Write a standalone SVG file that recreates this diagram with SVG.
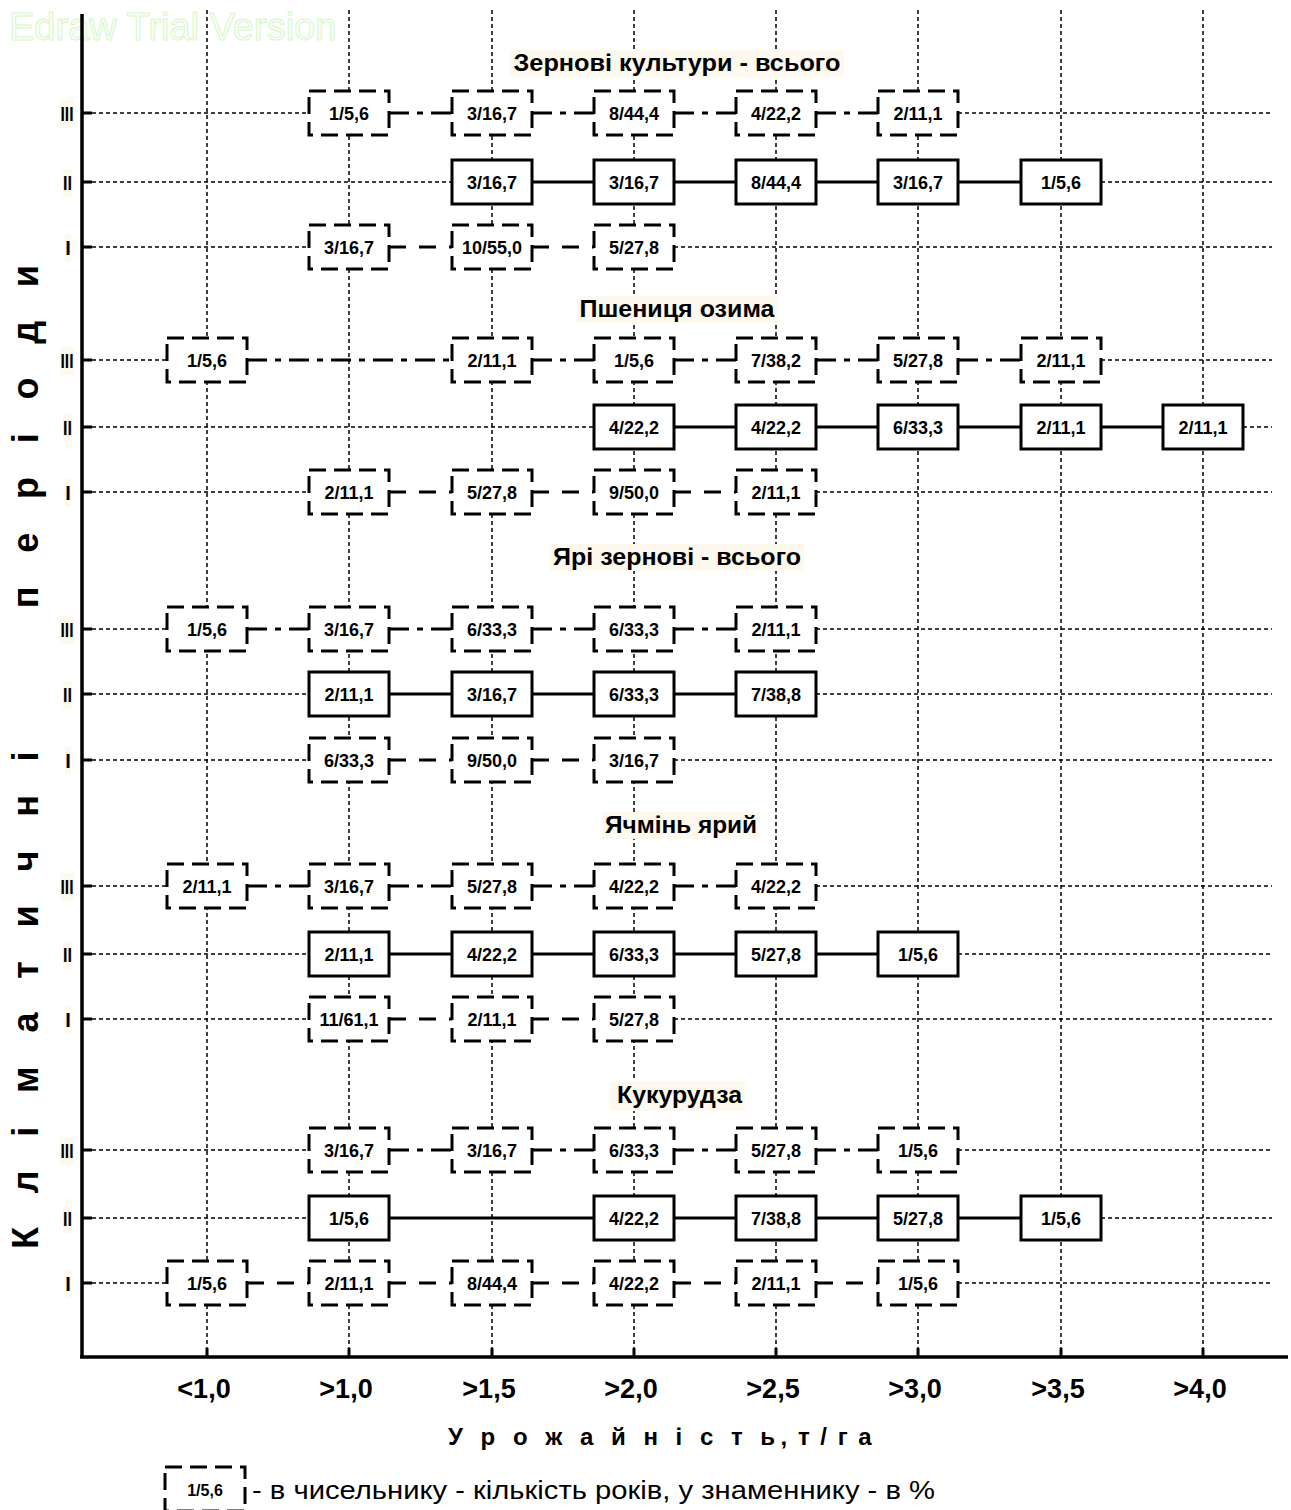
<svg xmlns="http://www.w3.org/2000/svg" width="1291" height="1510" viewBox="0 0 1291 1510">
<style>
text{font-family:"Liberation Sans",Arial,sans-serif;fill:#000}
.grid{stroke:#000;stroke-width:1.5;stroke-dasharray:4 3;fill:none}
.axis{stroke:#000;stroke-width:3.5;fill:none}
.tick{stroke:#000;stroke-width:3;fill:none}
.sb{fill:#fff;stroke:#000;stroke-width:3}
.db{fill:#fff;stroke:#000;stroke-width:3;stroke-dasharray:17 8}
.bl{font-size:18px;font-weight:bold;text-anchor:middle}
.cs{stroke:#000;stroke-width:3;fill:none}
.cd{stroke:#000;stroke-width:3;fill:none;stroke-dasharray:20 8 6 8}
.cl{stroke:#000;stroke-width:3;fill:none;stroke-dasharray:17 13}
.title{font-size:24px;font-weight:bold;text-anchor:middle}
.bg{fill:#fdf9ee}
.rn{font-size:20px;font-weight:bold;text-anchor:middle}
.xl{font-size:27px;font-weight:bold;text-anchor:middle}
</style>
<rect width="1291" height="1510" fill="#fff"/>
<text x="9" y="40" style="font-size:38px;fill:#fbfff8;stroke:#d6f7c6;stroke-width:1">Edraw Trial Version</text>

<g id="grid">
<path class="grid" d="M207 10V1350M349 10V1350M492 10V1350M634 10V1350M776 10V1350M918 10V1350M1061 10V1350M1203 10V1350"/>
<path class="grid" d="M92 113H309M958 113H1272M92 182H452M1101 182H1272M92 247H309M674 247H1272
M92 360H167M1101 360H1272M92 427H594M1243 427H1272M92 492H309M816 492H1272
M92 629H167M816 629H1272M92 694H309M816 694H1272M92 760H309M674 760H1272
M92 886H167M816 886H1272M92 954H309M958 954H1272M92 1019H309M674 1019H1272
M92 1150H309M958 1150H1272M92 1218H309M1101 1218H1272M92 1283H167M958 1283H1272"/>
</g>

<g id="titles">
<rect class="bg" x="510" y="50" width="334" height="27"/>
<text class="title" x="677" y="71" textLength="327" lengthAdjust="spacingAndGlyphs">Зернові культури - всього</text>
<rect class="bg" x="577" y="296" width="201" height="27"/>
<text class="title" x="677" y="317" textLength="195" lengthAdjust="spacingAndGlyphs">Пшениця озима</text>
<rect class="bg" x="550" y="544" width="254" height="27"/>
<text class="title" x="677" y="565" textLength="248" lengthAdjust="spacingAndGlyphs">Ярі зернові - всього</text>
<rect class="bg" x="602" y="812" width="158" height="27"/>
<text class="title" x="681" y="833" textLength="152" lengthAdjust="spacingAndGlyphs">Ячмінь ярий</text>
<rect class="bg" x="610" y="1081" width="135" height="30"/>
<text class="title" x="679.5" y="1103" textLength="125" lengthAdjust="spacingAndGlyphs">Кукурудза</text>
</g>

<g id="axes">
<path class="axis" d="M82 14V1358M80 1357H1288"/>
<path class="tick" d="M82 113H92M82 182H92M82 247H92M82 360H92M82 427H92M82 492H92M82 629H92M82 694H92M82 760H92M82 886H92M82 954H92M82 1019H92M82 1150H92M82 1218H92M82 1283H92"/>
<path class="tick" d="M207 1348V1357M349 1348V1357M492 1348V1357M634 1348V1357M776 1348V1357M918 1348V1357M1061 1348V1357M1203 1348V1357"/>
</g>

<g id="period-labels">
<rect class="bg" x="60" y="100" width="14" height="28"/><text class="rn" x="67" y="121" textLength="13" lengthAdjust="spacingAndGlyphs">III</text>
<rect class="bg" x="63" y="169" width="9" height="28"/><text class="rn" x="67.5" y="190" textLength="9" lengthAdjust="spacingAndGlyphs">II</text>
<rect class="bg" x="65" y="234" width="6" height="28"/><text class="rn" x="68" y="255">I</text>
<rect class="bg" x="60" y="347" width="14" height="28"/><text class="rn" x="67" y="368" textLength="13" lengthAdjust="spacingAndGlyphs">III</text>
<rect class="bg" x="63" y="414" width="9" height="28"/><text class="rn" x="67.5" y="435" textLength="9" lengthAdjust="spacingAndGlyphs">II</text>
<rect class="bg" x="65" y="479" width="6" height="28"/><text class="rn" x="68" y="500">I</text>
<rect class="bg" x="60" y="616" width="14" height="28"/><text class="rn" x="67" y="637" textLength="13" lengthAdjust="spacingAndGlyphs">III</text>
<rect class="bg" x="63" y="681" width="9" height="28"/><text class="rn" x="67.5" y="702" textLength="9" lengthAdjust="spacingAndGlyphs">II</text>
<rect class="bg" x="65" y="747" width="6" height="28"/><text class="rn" x="68" y="768">I</text>
<rect class="bg" x="60" y="873" width="14" height="28"/><text class="rn" x="67" y="894" textLength="13" lengthAdjust="spacingAndGlyphs">III</text>
<rect class="bg" x="63" y="941" width="9" height="28"/><text class="rn" x="67.5" y="962" textLength="9" lengthAdjust="spacingAndGlyphs">II</text>
<rect class="bg" x="65" y="1006" width="6" height="28"/><text class="rn" x="68" y="1027">I</text>
<rect class="bg" x="60" y="1137" width="14" height="28"/><text class="rn" x="67" y="1158" textLength="13" lengthAdjust="spacingAndGlyphs">III</text>
<rect class="bg" x="63" y="1205" width="9" height="28"/><text class="rn" x="67.5" y="1226" textLength="9" lengthAdjust="spacingAndGlyphs">II</text>
<rect class="bg" x="65" y="1270" width="6" height="28"/><text class="rn" x="68" y="1291">I</text>
</g>

<g id="connectors">
<path class="cd" d="M389 113H452M532 113H594M674 113H736M816 113H878"/>
<path class="cs" d="M532 182H594M674 182H736M816 182H878M958 182H1021"/>
<path class="cl" d="M389 247H452M532 247H594"/>
<path class="cd" d="M247 360H452M532 360H594M674 360H736M816 360H878M958 360H1021"/>
<path class="cs" d="M674 427H736M816 427H878M958 427H1021M1101 427H1163"/>
<path class="cl" d="M389 492H452M532 492H594M674 492H736"/>
<path class="cd" d="M247 629H309M389 629H452M532 629H594M674 629H736"/>
<path class="cs" d="M389 694H452M532 694H594M674 694H736"/>
<path class="cl" d="M389 760H452M532 760H594"/>
<path class="cd" d="M247 886H309M389 886H452M532 886H594M674 886H736"/>
<path class="cs" d="M389 954H452M532 954H594M674 954H736M816 954H878"/>
<path class="cl" d="M389 1019H452M532 1019H594"/>
<path class="cd" d="M389 1150H452M532 1150H594M674 1150H736M816 1150H878"/>
<path class="cs" d="M389 1218H594M674 1218H736M816 1218H878M958 1218H1021"/>
<path class="cl" d="M247 1283H309M389 1283H452M532 1283H594M674 1283H736M816 1283H878"/>
</g>

<g id="n1-3-1"><rect class="db" x="309" y="91" width="80" height="44"/><text class="bl" x="349" y="119.5">1/5,6</text></g>
<g id="n1-3-2"><rect class="db" x="452" y="91" width="80" height="44"/><text class="bl" x="492" y="119.5">3/16,7</text></g>
<g id="n1-3-3"><rect class="db" x="594" y="91" width="80" height="44"/><text class="bl" x="634" y="119.5">8/44,4</text></g>
<g id="n1-3-4"><rect class="db" x="736" y="91" width="80" height="44"/><text class="bl" x="776" y="119.5">4/22,2</text></g>
<g id="n1-3-5"><rect class="db" x="878" y="91" width="80" height="44"/><text class="bl" x="918" y="119.5">2/11,1</text></g>
<g id="n1-2-2"><rect class="sb" x="452" y="160" width="80" height="44"/><text class="bl" x="492" y="188.5">3/16,7</text></g>
<g id="n1-2-3"><rect class="sb" x="594" y="160" width="80" height="44"/><text class="bl" x="634" y="188.5">3/16,7</text></g>
<g id="n1-2-4"><rect class="sb" x="736" y="160" width="80" height="44"/><text class="bl" x="776" y="188.5">8/44,4</text></g>
<g id="n1-2-5"><rect class="sb" x="878" y="160" width="80" height="44"/><text class="bl" x="918" y="188.5">3/16,7</text></g>
<g id="n1-2-6"><rect class="sb" x="1021" y="160" width="80" height="44"/><text class="bl" x="1061" y="188.5">1/5,6</text></g>
<g id="n1-1-1"><rect class="db" x="309" y="225" width="80" height="44"/><text class="bl" x="349" y="253.5">3/16,7</text></g>
<g id="n1-1-2"><rect class="db" x="452" y="225" width="80" height="44"/><text class="bl" x="492" y="253.5">10/55,0</text></g>
<g id="n1-1-3"><rect class="db" x="594" y="225" width="80" height="44"/><text class="bl" x="634" y="253.5">5/27,8</text></g>

<g id="n2-3-0"><rect class="db" x="167" y="338" width="80" height="44"/><text class="bl" x="207" y="366.5">1/5,6</text></g>
<g id="n2-3-2"><rect class="db" x="452" y="338" width="80" height="44"/><text class="bl" x="492" y="366.5">2/11,1</text></g>
<g id="n2-3-3"><rect class="db" x="594" y="338" width="80" height="44"/><text class="bl" x="634" y="366.5">1/5,6</text></g>
<g id="n2-3-4"><rect class="db" x="736" y="338" width="80" height="44"/><text class="bl" x="776" y="366.5">7/38,2</text></g>
<g id="n2-3-5"><rect class="db" x="878" y="338" width="80" height="44"/><text class="bl" x="918" y="366.5">5/27,8</text></g>
<g id="n2-3-6"><rect class="db" x="1021" y="338" width="80" height="44"/><text class="bl" x="1061" y="366.5">2/11,1</text></g>
<g id="n2-2-3"><rect class="sb" x="594" y="405" width="80" height="44"/><text class="bl" x="634" y="433.5">4/22,2</text></g>
<g id="n2-2-4"><rect class="sb" x="736" y="405" width="80" height="44"/><text class="bl" x="776" y="433.5">4/22,2</text></g>
<g id="n2-2-5"><rect class="sb" x="878" y="405" width="80" height="44"/><text class="bl" x="918" y="433.5">6/33,3</text></g>
<g id="n2-2-6"><rect class="sb" x="1021" y="405" width="80" height="44"/><text class="bl" x="1061" y="433.5">2/11,1</text></g>
<g id="n2-2-7"><rect class="sb" x="1163" y="405" width="80" height="44"/><text class="bl" x="1203" y="433.5">2/11,1</text></g>
<g id="n2-1-1"><rect class="db" x="309" y="470" width="80" height="44"/><text class="bl" x="349" y="498.5">2/11,1</text></g>
<g id="n2-1-2"><rect class="db" x="452" y="470" width="80" height="44"/><text class="bl" x="492" y="498.5">5/27,8</text></g>
<g id="n2-1-3"><rect class="db" x="594" y="470" width="80" height="44"/><text class="bl" x="634" y="498.5">9/50,0</text></g>
<g id="n2-1-4"><rect class="db" x="736" y="470" width="80" height="44"/><text class="bl" x="776" y="498.5">2/11,1</text></g>

<g id="n3-3-0"><rect class="db" x="167" y="607" width="80" height="44"/><text class="bl" x="207" y="635.5">1/5,6</text></g>
<g id="n3-3-1"><rect class="db" x="309" y="607" width="80" height="44"/><text class="bl" x="349" y="635.5">3/16,7</text></g>
<g id="n3-3-2"><rect class="db" x="452" y="607" width="80" height="44"/><text class="bl" x="492" y="635.5">6/33,3</text></g>
<g id="n3-3-3"><rect class="db" x="594" y="607" width="80" height="44"/><text class="bl" x="634" y="635.5">6/33,3</text></g>
<g id="n3-3-4"><rect class="db" x="736" y="607" width="80" height="44"/><text class="bl" x="776" y="635.5">2/11,1</text></g>
<g id="n3-2-1"><rect class="sb" x="309" y="672" width="80" height="44"/><text class="bl" x="349" y="700.5">2/11,1</text></g>
<g id="n3-2-2"><rect class="sb" x="452" y="672" width="80" height="44"/><text class="bl" x="492" y="700.5">3/16,7</text></g>
<g id="n3-2-3"><rect class="sb" x="594" y="672" width="80" height="44"/><text class="bl" x="634" y="700.5">6/33,3</text></g>
<g id="n3-2-4"><rect class="sb" x="736" y="672" width="80" height="44"/><text class="bl" x="776" y="700.5">7/38,8</text></g>
<g id="n3-1-1"><rect class="db" x="309" y="738" width="80" height="44"/><text class="bl" x="349" y="766.5">6/33,3</text></g>
<g id="n3-1-2"><rect class="db" x="452" y="738" width="80" height="44"/><text class="bl" x="492" y="766.5">9/50,0</text></g>
<g id="n3-1-3"><rect class="db" x="594" y="738" width="80" height="44"/><text class="bl" x="634" y="766.5">3/16,7</text></g>

<g id="n4-3-0"><rect class="db" x="167" y="864" width="80" height="44"/><text class="bl" x="207" y="892.5">2/11,1</text></g>
<g id="n4-3-1"><rect class="db" x="309" y="864" width="80" height="44"/><text class="bl" x="349" y="892.5">3/16,7</text></g>
<g id="n4-3-2"><rect class="db" x="452" y="864" width="80" height="44"/><text class="bl" x="492" y="892.5">5/27,8</text></g>
<g id="n4-3-3"><rect class="db" x="594" y="864" width="80" height="44"/><text class="bl" x="634" y="892.5">4/22,2</text></g>
<g id="n4-3-4"><rect class="db" x="736" y="864" width="80" height="44"/><text class="bl" x="776" y="892.5">4/22,2</text></g>
<g id="n4-2-1"><rect class="sb" x="309" y="932" width="80" height="44"/><text class="bl" x="349" y="960.5">2/11,1</text></g>
<g id="n4-2-2"><rect class="sb" x="452" y="932" width="80" height="44"/><text class="bl" x="492" y="960.5">4/22,2</text></g>
<g id="n4-2-3"><rect class="sb" x="594" y="932" width="80" height="44"/><text class="bl" x="634" y="960.5">6/33,3</text></g>
<g id="n4-2-4"><rect class="sb" x="736" y="932" width="80" height="44"/><text class="bl" x="776" y="960.5">5/27,8</text></g>
<g id="n4-2-5"><rect class="sb" x="878" y="932" width="80" height="44"/><text class="bl" x="918" y="960.5">1/5,6</text></g>
<g id="n4-1-1"><rect class="db" x="309" y="997" width="80" height="44"/><text class="bl" x="349" y="1025.5">11/61,1</text></g>
<g id="n4-1-2"><rect class="db" x="452" y="997" width="80" height="44"/><text class="bl" x="492" y="1025.5">2/11,1</text></g>
<g id="n4-1-3"><rect class="db" x="594" y="997" width="80" height="44"/><text class="bl" x="634" y="1025.5">5/27,8</text></g>

<g id="n5-3-1"><rect class="db" x="309" y="1128" width="80" height="44"/><text class="bl" x="349" y="1156.5">3/16,7</text></g>
<g id="n5-3-2"><rect class="db" x="452" y="1128" width="80" height="44"/><text class="bl" x="492" y="1156.5">3/16,7</text></g>
<g id="n5-3-3"><rect class="db" x="594" y="1128" width="80" height="44"/><text class="bl" x="634" y="1156.5">6/33,3</text></g>
<g id="n5-3-4"><rect class="db" x="736" y="1128" width="80" height="44"/><text class="bl" x="776" y="1156.5">5/27,8</text></g>
<g id="n5-3-5"><rect class="db" x="878" y="1128" width="80" height="44"/><text class="bl" x="918" y="1156.5">1/5,6</text></g>
<g id="n5-2-1"><rect class="sb" x="309" y="1196" width="80" height="44"/><text class="bl" x="349" y="1224.5">1/5,6</text></g>
<g id="n5-2-3"><rect class="sb" x="594" y="1196" width="80" height="44"/><text class="bl" x="634" y="1224.5">4/22,2</text></g>
<g id="n5-2-4"><rect class="sb" x="736" y="1196" width="80" height="44"/><text class="bl" x="776" y="1224.5">7/38,8</text></g>
<g id="n5-2-5"><rect class="sb" x="878" y="1196" width="80" height="44"/><text class="bl" x="918" y="1224.5">5/27,8</text></g>
<g id="n5-2-6"><rect class="sb" x="1021" y="1196" width="80" height="44"/><text class="bl" x="1061" y="1224.5">1/5,6</text></g>
<g id="n5-1-0"><rect class="db" x="167" y="1261" width="80" height="44"/><text class="bl" x="207" y="1289.5">1/5,6</text></g>
<g id="n5-1-1"><rect class="db" x="309" y="1261" width="80" height="44"/><text class="bl" x="349" y="1289.5">2/11,1</text></g>
<g id="n5-1-2"><rect class="db" x="452" y="1261" width="80" height="44"/><text class="bl" x="492" y="1289.5">8/44,4</text></g>
<g id="n5-1-3"><rect class="db" x="594" y="1261" width="80" height="44"/><text class="bl" x="634" y="1289.5">4/22,2</text></g>
<g id="n5-1-4"><rect class="db" x="736" y="1261" width="80" height="44"/><text class="bl" x="776" y="1289.5">2/11,1</text></g>
<g id="n5-1-5"><rect class="db" x="878" y="1261" width="80" height="44"/><text class="bl" x="918" y="1289.5">1/5,6</text></g>

<g id="x-labels">
<text class="xl" x="204" y="1398">&lt;1,0</text>
<text class="xl" x="346" y="1398">&gt;1,0</text>
<text class="xl" x="489" y="1398">&gt;1,5</text>
<text class="xl" x="631" y="1398">&gt;2,0</text>
<text class="xl" x="773" y="1398">&gt;2,5</text>
<text class="xl" x="915" y="1398">&gt;3,0</text>
<text class="xl" x="1058" y="1398">&gt;3,5</text>
<text class="xl" x="1200" y="1398">&gt;4,0</text>
</g>

<text x="448" y="1445" style="font-size:24px;font-weight:bold"><tspan letter-spacing="5.5">У р о ж а й н і с т ь</tspan><tspan letter-spacing="2">, т / г а</tspan></text>

<text transform="translate(38,1249) rotate(-90)" x="0" y="0" xml:space="preserve" textLength="984" lengthAdjust="spacing" style="font-size:36px;font-weight:bold">К л і м а т и ч н і      п е р і о д и</text>

<g id="legend">
<rect class="db" x="165" y="1467" width="80" height="44"/>
<text x="205" y="1496" style="font-size:16px;font-weight:bold;text-anchor:middle">1/5,6</text>
<text x="252" y="1499" textLength="683" lengthAdjust="spacingAndGlyphs" style="font-size:26px">- в чисельнику - кількість років, у знаменнику - в %</text>
</g>
</svg>
